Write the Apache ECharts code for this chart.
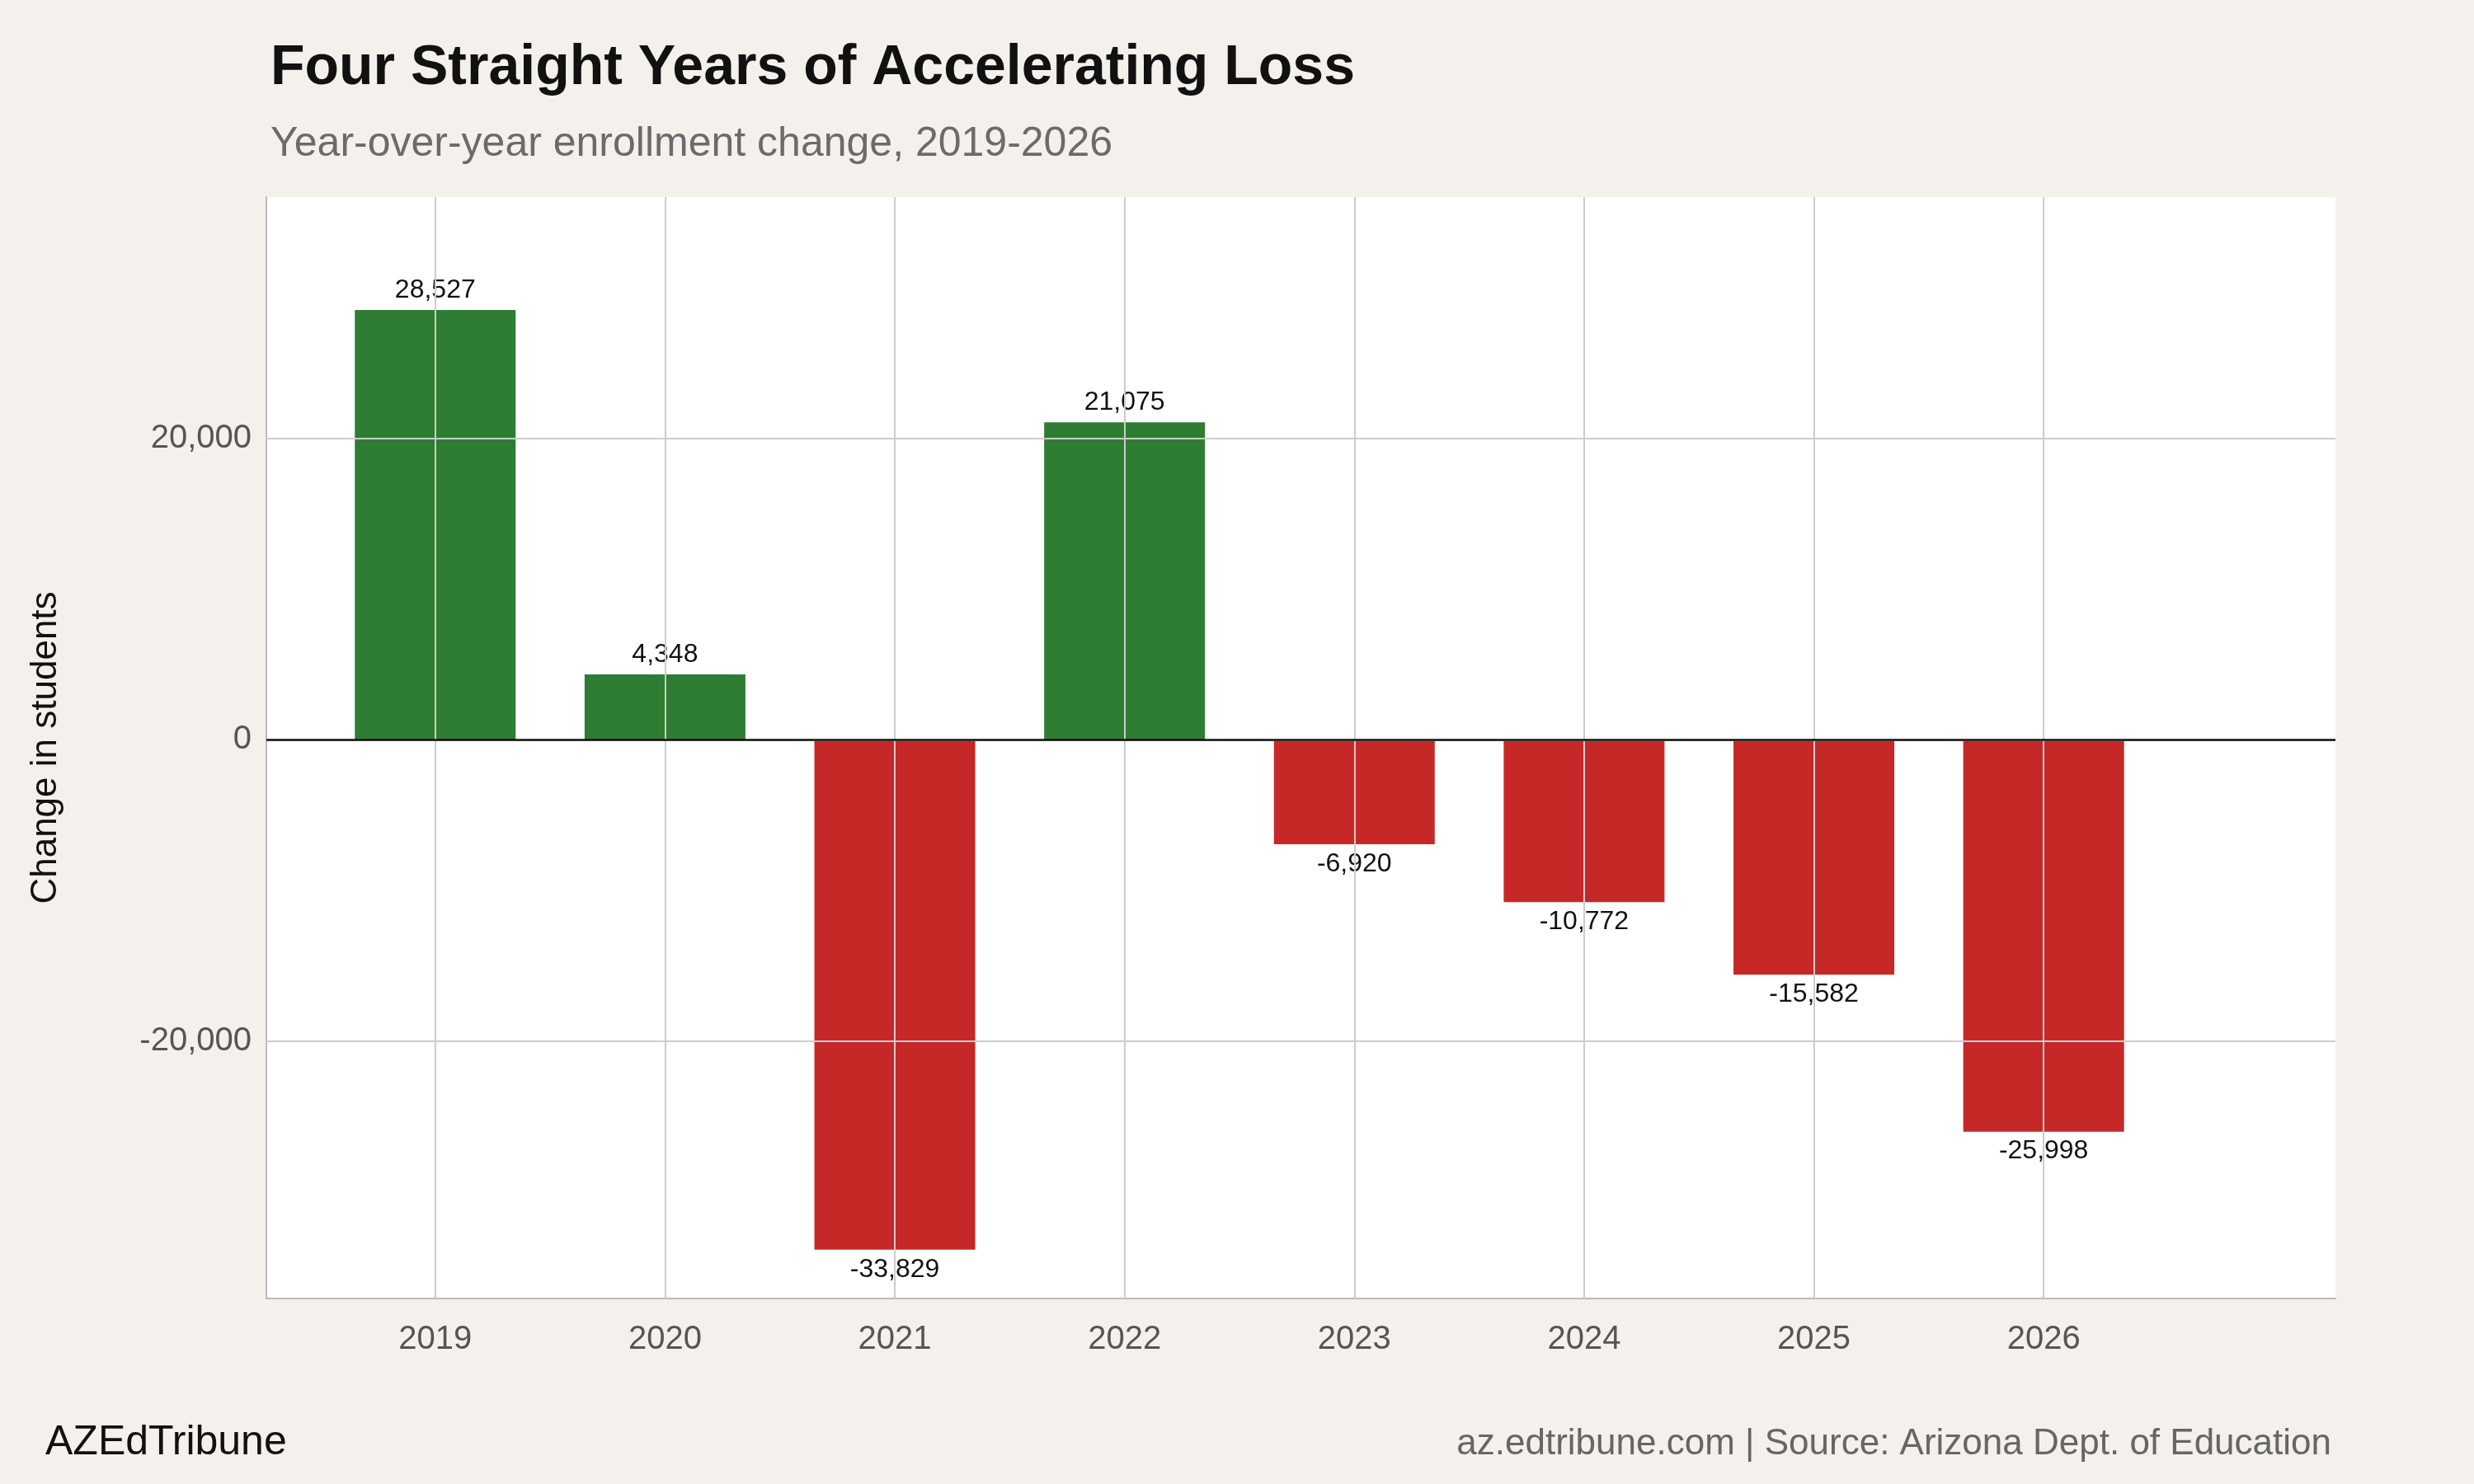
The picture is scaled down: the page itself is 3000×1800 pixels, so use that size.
<!DOCTYPE html>
<html><head><meta charset="utf-8">
<script src="https://cdn.jsdelivr.net/npm/echarts@6/dist/echarts.min.js"></script>
<style>html,body{margin:0;background:#f4f1ec}#c{width:3000px;height:1800px}</style>
</head><body><div id="c"></div>
<script>
const years = [2019, 2020, 2021, 2022, 2023, 2024, 2025, 2026];
const changes = [28527, 4348, -33829, 21075, -6920, -10772, -15582, -25998];
const yTicks = [-20000, 0, 20000];
const FONT = 'Liberation Sans';
const fmt = v => v.toLocaleString('en-US');
const chart = echarts.init(document.getElementById('c'));
chart.setOption({
  backgroundColor: '#f4f1ec',
  textStyle: {fontFamily: FONT},
  title: [
    {text: 'Four Straight Years of Accelerating Loss', left: 323, top: 44,
     textStyle: {fontFamily: FONT, fontSize: 68, fontWeight: 'bold', color: '#111'}},
    {text: 'Year-over-year enrollment change, 2019-2026', left: 323, top: 145,
     textStyle: {fontFamily: FONT, fontSize: 50, fontWeight: 'normal', color: '#6b6b6b'}},
    {text: 'AZEdTribune', left: 50, top: 1720,
     textStyle: {fontFamily: FONT, fontSize: 50, fontWeight: 'normal', color: '#111'}},
    {text: 'az.edtribune.com | Source: Arizona Dept. of Education', right: 168, top: 1725,
     textStyle: {fontFamily: FONT, fontSize: 44, fontWeight: 'normal', color: '#666'}}
  ],
  grid: {left: 323, right: 168, top: 239, bottom: 225, show: true, backgroundColor: '#ffffff', borderWidth: 0},
  xAxis: {type: 'value', min: 2018.265, max: 2027.27,
    axisLabel: {show: false}, axisTick: {show: false}, splitLine: {show: false},
    axisLine: {show: true, onZero: false, lineStyle: {color: '#bbbbbb', width: 2}}},
  yAxis: {type: 'value', min: -37068, max: 36020,
    name: 'Change in students', nameLocation: 'middle', nameGap: 245, nameRotate: 90,
    nameTextStyle: {fontFamily: FONT, fontSize: 44, color: '#111'},
    axisLabel: {show: false}, axisTick: {show: false}, splitLine: {show: false},
    axisLine: {show: true, onZero: false, lineStyle: {color: '#bbbbbb', width: 2}}},
  series: [
    {type: 'line', data: [], z: 1, silent: true,
     markLine: {symbol: 'none', silent: true, animation: false,
       lineStyle: {color: '#cccccc', width: 2, type: 'solid'},
       data: years.map(y => ({xAxis: y, label: {show: true, position: 'start', formatter: String(y), distance: 30,
                fontFamily: FONT, fontSize: 40, color: '#555'}}))
         .concat(yTicks.map(t => ({yAxis: t, label: {show: true, position: 'start', formatter: fmt(t), distance: 18,
                fontFamily: FONT, fontSize: 40, color: '#555'}})))}},
    {type: 'bar', z: 2, barWidth: 195, animation: false,
     data: years.map((y, i) => ({value: [y, changes[i]],
       itemStyle: {color: changes[i] >= 0 ? '#2e7d32' : '#c62828'},
       label: {show: true, position: changes[i] >= 0 ? 'top' : 'bottom', distance: 8,
         formatter: fmt(changes[i]), fontFamily: FONT, fontSize: 32, color: '#111'}}))},
    {type: 'line', data: [], z: 5, silent: true,
     markLine: {symbol: 'none', silent: true, animation: false,
       lineStyle: {color: '#111', width: 2.5, type: 'solid'}, label: {show: false},
       data: [{yAxis: 0}]}}
  ]
});
</script></body></html>
